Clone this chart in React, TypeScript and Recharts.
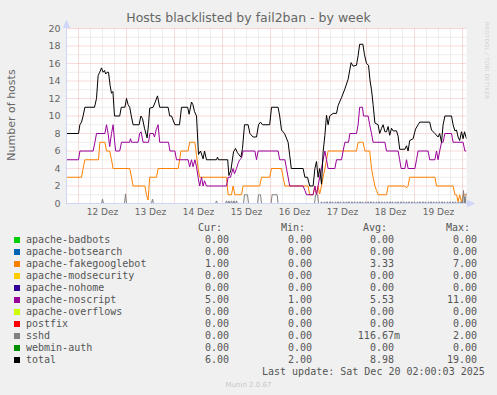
import { LineChart, Line, XAxis, YAxis, ReferenceLine, ReferenceDot } from 'recharts';

// x values are hours counted from 11 Dez 00:00
const dayTicks = [36, 60, 84, 108, 132, 156, 180, 204];
const dayLabels = ['12 Dez', '13 Dez', '14 Dez', '15 Dez', '16 Dez', '17 Dez', '18 Dez', '19 Dez'];
const yTicks = [0, 2, 4, 6, 8, 10, 12, 14, 16, 18, 20];

const total: [number, number][] = [
  [18, 8], [24, 8], [24.7, 9], [25.5, 9.3], [26.3, 10], [27.2, 11], [32, 11], [33, 12], [33.8, 14.6],
  [34.6, 15], [35.5, 15.5], [36.3, 15], [37, 15.2], [37.6, 14.8], [38.3, 15], [39, 15], [39.8, 13.5],
  [40.5, 12.6], [41.2, 12.8], [42, 10], [44.6, 10], [45.4, 11], [47.2, 11], [48, 12], [48.8, 11.3],
  [49.6, 11], [50.4, 10], [51.3, 9], [54.3, 9], [55.2, 10], [56, 9.7], [57, 8.6], [58.3, 7.5], [59, 9],
  [59.6, 10.9], [61.3, 11], [62.2, 11.5], [63.5, 12.3], [64.6, 11], [68.8, 11], [69.6, 10], [70.5, 10],
  [72.2, 9], [74.5, 9], [75.5, 11], [78.6, 11], [79.3, 10.2], [80.5, 11.6], [81.2, 11.3], [82, 10.5],
  [83, 10], [84, 5.6], [85, 6], [86.3, 5.1], [87, 6], [88, 5], [93, 5], [93.5, 5.3], [94, 5], [98.6, 5],
  [99.2, 3.2], [100.2, 3.8], [101.5, 5.9], [102.5, 6.3], [103.5, 5.8], [105.2, 5.3], [106, 6.3], [107, 9],
  [108.8, 9], [109.7, 8], [111.3, 7.6], [113, 7.6], [114, 9], [115, 9.3], [116, 9], [119.6, 9], [120.5, 11],
  [123.8, 11], [124.6, 10], [125.5, 8.4], [127, 8], [128.8, 7], [129.6, 5.5], [130.4, 4], [136.3, 4],
  [137.2, 3], [138.5, 3], [139.6, 2], [141.3, 2], [142.2, 4], [143, 4.8], [143.8, 3], [144.6, 4],
  [145.5, 2.2], [146.3, 5.9], [147.2, 7.8], [148, 10.1], [148.8, 9], [149.6, 10], [151.3, 10.3],
  [153, 10.3], [153.8, 11.2], [155.5, 12.1], [157.2, 13.1], [158.8, 14.2], [160.3, 16.1], [161.3, 15.7],
  [163, 15.8], [163.8, 16.9], [164.6, 18.2], [166.2, 18.2], [167, 17], [168, 16], [169, 15.8], [169.8, 14],
  [170.5, 13], [171.3, 11.3], [172.2, 9.2], [173.8, 9], [174.6, 8], [175.5, 8.6], [176.3, 9], [177.2, 8.2],
  [178, 8.2], [178.8, 8.8], [179.6, 7.8], [180.5, 8.6], [181.3, 8.3], [183, 8.3], [183.8, 7.7], [184.6, 6.2],
  [187.2, 6.2], [188, 6.6], [188.8, 6], [189.6, 7.2], [191.3, 7.4], [192.5, 8.5], [193.8, 9], [194.6, 9.3],
  [199.6, 9.3], [200.5, 8.4], [202.2, 8], [203.8, 7.6], [204.6, 8], [205.5, 7], [206.3, 9], [207.2, 10],
  [210.5, 10], [211.3, 9], [212.2, 8.3], [213, 8.4], [213.8, 7.6], [214.6, 7.2], [215.5, 8.2], [216.3, 7.4],
  [217, 8.2], [218, 7.4],
];

const noscript: [number, number][] = [
  [18, 5], [24, 5], [24.7, 6], [31.3, 6], [32.2, 7], [33, 8], [37.2, 8], [38, 9], [38.8, 8], [39.6, 6.5],
  [40.5, 8], [41.3, 9], [42.1, 7], [42.6, 6], [44.6, 6], [45.5, 7], [49.5, 7], [50, 7.4], [50.5, 7],
  [53.8, 7], [54.6, 8], [55.3, 8.2], [56.3, 7], [59, 7], [59.7, 8], [61.3, 8], [62, 7.6], [62.8, 8.4],
  [63.8, 9], [64.6, 7], [69, 7], [69.7, 6], [72.2, 6], [73, 5], [78.8, 5], [79.6, 4.2], [80.5, 5],
  [81.3, 4.2], [82.2, 5], [83, 4.2], [83.8, 3], [84.6, 2], [85.5, 3], [86.3, 2], [87, 2.6], [88, 2],
  [98, 2], [98.8, 3], [100, 3], [100.5, 3.4], [101.3, 4], [102, 3.4], [103, 4], [103.8, 4.6], [104.6, 5],
  [105.5, 5.2], [106.3, 6], [112.2, 6], [113, 5], [113.8, 6], [123.8, 6], [124.6, 5], [127.2, 5], [128, 4],
  [128.8, 3], [129.6, 2], [136.3, 2], [137.2, 1.5], [138, 1], [141.3, 1], [142.2, 2], [143, 1], [143.8, 2],
  [144.6, 3], [145.5, 4], [146.3, 5], [147.2, 6], [148, 5], [148.8, 4], [152.2, 4], [153, 5], [155.5, 5],
  [156.3, 6], [157.2, 7], [159, 7], [159.7, 8], [163, 8], [163.8, 9], [164.6, 11], [166, 11], [166.5, 10],
  [168.8, 10], [169.6, 9], [170.5, 8], [171.3, 7], [177.2, 7], [178, 6], [183.8, 6], [184.6, 5], [185.3, 4],
  [187.2, 4], [188, 5], [188.8, 4], [192.2, 4], [193, 5], [193.8, 6], [198.8, 6], [199.6, 5], [202.2, 5],
  [203, 6], [203.8, 5], [204.6, 6], [205.5, 7], [206.3, 7], [207.2, 8], [210.5, 8], [211.3, 7], [216.3, 7],
  [217.2, 6], [218, 6],
];

const fakegooglebot: [number, number][] = [
  [18, 3], [25.5, 3], [26.3, 4], [27.2, 5], [34, 5], [34.7, 7], [37.2, 7], [38, 6], [39.6, 6], [40.5, 5],
  [41.3, 4], [49.6, 4], [50.5, 3], [51.3, 2], [57.2, 2], [58, 1], [58.8, 0.4], [59.6, 3], [63, 3], [63.8, 4],
  [73.8, 4], [74.6, 5], [75.2, 6], [78.8, 6], [79.6, 7], [82.2, 7], [83, 5.5], [83.8, 4], [84.6, 3], [98, 3],
  [98.8, 1], [100.5, 1], [101.3, 2], [102.2, 1], [105.5, 1], [106.3, 2], [114.6, 2], [115.5, 3], [119.6, 3],
  [120.5, 4], [125.5, 4], [126.3, 3], [127.2, 2], [138.8, 2], [139.6, 1], [141.3, 1], [142.2, 2], [143, 1],
  [143.8, 2], [144.6, 1.1], [145.5, 2], [146.3, 3], [147.2, 4], [148, 5], [148.8, 6], [163, 6], [163.8, 7],
  [166.3, 7], [167.2, 6], [169.6, 6], [170.5, 4], [171.3, 3], [172.2, 2], [173, 1.5], [173.8, 1], [178, 1],
  [178.8, 2], [187.2, 2], [188, 1.8], [188.8, 2], [189.6, 3], [202.2, 3], [203, 2], [211.3, 2], [212.2, 1],
  [213, 1], [213.8, 0.2], [214.6, 1], [215.5, 0.1], [216.3, 1], [218, 1],
];

// non-zero sshd samples (30 min steps), zero elsewhere
const sshdSamples: [number, number][] = [
  [36, 0.5], [47.5, 1.1], [61, 0.5], [93, 0.3], [98, 0.3], [99.2, 0.3], [100.5, 0.3], [101.7, 0.3], [103, 0.3],
  [107, 1], [107.5, 1], [108, 1], [108.5, 1], [114, 1], [114.5, 1], [115, 1],
  [120.8, 1], [121.3, 1], [121.8, 1], [122.3, 1], [122.8, 1], [123.3, 1], [142.5, 1], [143, 1], [143.5, 1],
  [145.5, 0.2], [147, 0.2], [148.3, 0.2], [149.8, 0.2], [151, 0.2], [152.5, 0.2], [153.8, 0.2], [155, 0.2],
  [156.6, 0.2], [158, 0.2], [159.2, 0.2], [160.7, 0.2], [162, 0.2], [163.4, 0.2], [164.8, 0.2], [166, 0.2],
  [167.5, 0.2], [168.8, 0.2], [170.2, 0.2], [171.5, 0.2], [173, 0.2], [174.3, 0.2], [175.6, 0.2], [177, 0.2],
  [178.4, 0.2], [179.8, 0.2], [181, 0.2], [182.5, 0.2], [183.8, 0.2], [185.2, 0.2], [186.6, 0.2], [188, 0.2],
  [189.3, 0.2], [190.7, 0.2], [192, 0.2], [193.5, 0.2], [194.8, 0.2], [196.2, 0.2], [197.5, 0.2], [199, 0.2],
  [200.3, 0.2], [201.6, 0.2], [203, 0.2], [204.4, 0.2], [205.8, 0.2], [207, 0.2], [208.5, 0.2], [209.8, 0.2],
  [211.2, 0.2], [212.5, 0.2], [214, 0.2], [215.3, 0.2], [216.5, 1.5], [217.2, 0.8], [218, 1.2],
];

const legendRows = [
  { name: 'apache-badbots', color: '#00cc00', cur: '0.00', min: '0.00', avg: '0.00', max: '0.00' },
  { name: 'apache-botsearch', color: '#0066b3', cur: '0.00', min: '0.00', avg: '0.00', max: '0.00' },
  { name: 'apache-fakegooglebot', color: '#ff8000', cur: '1.00', min: '0.00', avg: '3.33', max: '7.00' },
  { name: 'apache-modsecurity', color: '#ffcc00', cur: '0.00', min: '0.00', avg: '0.00', max: '0.00' },
  { name: 'apache-nohome', color: '#330099', cur: '0.00', min: '0.00', avg: '0.00', max: '0.00' },
  { name: 'apache-noscript', color: '#990099', cur: '5.00', min: '1.00', avg: '5.53', max: '11.00' },
  { name: 'apache-overflows', color: '#ccff00', cur: '0.00', min: '0.00', avg: '0.00', max: '0.00' },
  { name: 'postfix', color: '#ff0000', cur: '0.00', min: '0.00', avg: '0.00', max: '0.00' },
  { name: 'sshd', color: '#808080', cur: '0.00', min: '0.00', avg: '116.67m', max: '2.00' },
  { name: 'webmin-auth', color: '#008f00', cur: '0.00', min: '0.00', avg: '0.00', max: '0.00' },
  { name: 'total', color: '#000000', cur: '6.00', min: '2.00', avg: '8.98', max: '19.00' },
];

const X0 = 18;
const X1 = 218;

const toPts = (arr: [number, number][]) => arr.map(([h, v]) => ({ h, v }));

function buildSshd() {
  const out: { h: number; v: number }[] = [{ h: X0, v: 0 }];
  let prev = X0;
  for (const [h, v] of sshdSamples) {
    if (h - prev > 0.6) {
      out.push({ h: Math.max(prev + 0.5, X0), v: 0 });
      out.push({ h: h - 0.5, v: 0 });
    }
    out.push({ h, v });
    prev = h;
  }
  return out;
}

const zeroLine = [{ h: X0, v: 0 }, { h: X1, v: 0 }];

const midnights: number[] = [];
const quarterDays: number[] = [];
for (let h = 24; h <= 216; h += 6) (h % 24 === 0 ? midnights : quarterDays).push(h);
const minorY = [1, 3, 5, 7, 9, 11, 13, 15, 17, 19];
const majorY = [2, 4, 6, 8, 10, 12, 14, 16, 18, 20];

const FONT = '#666666';
const AXIS = '#CFD6F8';
const GRID = '#dadada';
const MGRID = '#f5b4b4';
const sans = '"DejaVu Sans", sans-serif';
const mono = '"DejaVu Sans Mono", monospace';

const UpArrow = (p: any) => (
  <path d={`M${p.cx},${p.cy - 8} L${p.cx - 3},${p.cy - 1} L${p.cx + 3},${p.cy - 1} Z M${p.cx},${p.cy - 1} L${p.cx},${p.cy}`} fill={AXIS} stroke={AXIS} strokeWidth={1} />
);
const RightArrow = (p: any) => (
  <path d={`M${p.cx + 8},${p.cy} L${p.cx + 1},${p.cy - 3} L${p.cx + 1},${p.cy + 3} Z M${p.cx},${p.cy} L${p.cx + 1},${p.cy}`} fill={AXIS} stroke={AXIS} strokeWidth={1} />
);

const cell = (text: string, right: number, top: number, key: string) => (
  <span key={key} style={{ position: 'absolute', left: right - 100, width: 100, top, textAlign: 'right', whiteSpace: 'pre' }}>{text}</span>
);

export default function App() {
  const series = [
    { name: 'apache-badbots', color: '#00cc00', data: zeroLine },
    { name: 'apache-botsearch', color: '#0066b3', data: zeroLine },
    { name: 'apache-fakegooglebot', color: '#ff8000', data: toPts(fakegooglebot) },
    { name: 'apache-modsecurity', color: '#ffcc00', data: zeroLine },
    { name: 'apache-nohome', color: '#330099', data: zeroLine },
    { name: 'apache-noscript', color: '#990099', data: toPts(noscript) },
    { name: 'apache-overflows', color: '#ccff00', data: zeroLine },
    { name: 'postfix', color: '#ff0000', data: zeroLine },
    { name: 'sshd', color: '#808080', data: buildSshd() },
    { name: 'webmin-auth', color: '#8fc88f', data: zeroLine },
    { name: 'total', color: '#000000', data: toPts(total) },
  ];

  return (
    <div style={{ position: 'absolute', left: 0, top: 0, width: 497, height: 395, background: '#f0f0f0', overflow: 'hidden', color: '#555' }}>
      <div style={{ position: 'absolute', left: 0, width: 497, top: 10, textAlign: 'center', fontFamily: sans, fontSize: 12.5, color: FONT, lineHeight: '16px' }}>
        Hosts blacklisted by fail2ban - by week
      </div>
      <div style={{ position: 'absolute', left: 11, top: 115, transform: 'translate(-50%, -50%) rotate(-90deg)', fontFamily: sans, fontSize: 11, color: FONT, whiteSpace: 'nowrap' }}>
        Number of hosts
      </div>
      <div style={{ position: 'absolute', left: 484, top: 22, writingMode: 'vertical-rl', fontFamily: sans, fontSize: 5.5, color: '#d2d2d2', whiteSpace: 'nowrap', letterSpacing: 0.3 }}>
        RRDTOOL / TOBI OETIKER
      </div>

      <div style={{ position: 'absolute', left: 0, top: 0 }}>
        <LineChart width={497} height={395} margin={{ top: 28.5, right: 30.5, bottom: 171.5, left: 6.5 }}>
          <rect x={66.5} y={28.5} width={400} height={175} fill="#ffffff" />
          <XAxis
            dataKey="h" type="number" domain={[X0, X1]} allowDataOverflow ticks={dayTicks} interval={0}
            tickFormatter={(v: number) => dayLabels[dayTicks.indexOf(v)] ?? ''}
            height={20} tickLine={false} tickSize={0} tickMargin={5}
            axisLine={{ stroke: AXIS }}
            tick={{ fontSize: 9, fill: FONT, fontFamily: sans }}
          />
          <YAxis
            type="number" domain={[0, 20]} ticks={yTicks} interval={0} width={60}
            tickLine={false} tickSize={0} tickMargin={6}
            axisLine={{ stroke: AXIS }}
            tick={{ fontSize: 9.5, fill: FONT, fontFamily: sans }}
          />
          {quarterDays.map(h => (
            <ReferenceLine key={'qx' + h} x={h} stroke={GRID} strokeDasharray="1 1" />
          ))}
          {minorY.map(v => (
            <ReferenceLine key={'my' + v} y={v} stroke={GRID} strokeDasharray="1 1" />
          ))}
          {midnights.map(h => (
            <ReferenceLine key={'mx' + h} x={h} stroke={MGRID} strokeDasharray="1 1" />
          ))}
          {majorY.map(v => (
            <ReferenceLine key={'My' + v} y={v} stroke={MGRID} strokeDasharray="1 1" />
          ))}
          {series.map(s => (
            <Line
              key={s.name} data={s.data} dataKey="v" type="linear" stroke={s.color} strokeWidth={1}
              dot={false} activeDot={false} isAnimationActive={false}
            />
          ))}
          <ReferenceDot x={X0} y={20} r={0} ifOverflow="visible" shape={UpArrow} />
          <ReferenceDot x={X1} y={0} r={0} ifOverflow="visible" shape={RightArrow} />
        </LineChart>
      </div>

      <div style={{ position: 'absolute', left: 0, top: 0, width: 497, height: 395, fontFamily: mono, fontSize: 10, lineHeight: '12px' }}>
        {cell('Cur:', 222, 221.5, 'hc')}
        {cell('Min:', 305, 221.5, 'hm')}
        {cell('Avg:', 387, 221.5, 'ha')}
        {cell('Max:', 470, 221.5, 'hx')}
        {legendRows.map((r, i) => {
          const top = 233.5 + i * 12;
          return (
            <div key={r.name}>
              <span style={{ position: 'absolute', left: 14, top: top + 3, width: 6, height: 6, background: r.color }} />
              <span style={{ position: 'absolute', left: 26, top, whiteSpace: 'pre' }}>{r.name}</span>
              {cell(r.cur, 229, top, 'c')}
              {cell(r.min, 312, top, 'm')}
              {cell(r.avg.endsWith('m') ? r.avg : r.avg + ' ', 400, top, 'a')}
              {cell(r.max, 477, top, 'x')}
            </div>
          );
        })}
        <span style={{ position: 'absolute', left: 262, top: 365.5, whiteSpace: 'pre' }}>Last update: Sat Dec 20 02:00:03 2025</span>
        <span style={{ position: 'absolute', left: 0, width: 497, top: 379, textAlign: 'center', fontFamily: sans, fontSize: 7, color: '#c8c8c8' }}>Munin 2.0.67</span>
      </div>
    </div>
  );
}
